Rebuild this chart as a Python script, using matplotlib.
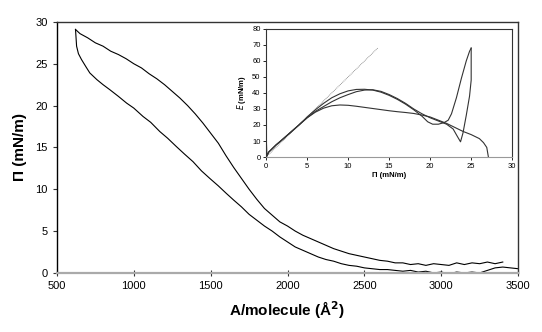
import matplotlib.pyplot as plt

plt.rcParams['font.family'] = ['Liberation Sans', 'DejaVu Sans']

# main isotherm, upper branch (right -> left) then lower branch (left -> right)
upper_area = [3400, 3350, 3300, 3250, 3200, 3150, 3100, 3050, 3000, 2950, 2900, 2850, 2800,
              2750, 2700, 2650, 2600, 2550, 2500, 2450, 2400, 2350, 2300, 2250, 2200, 2150,
              2100, 2050, 2000, 1950, 1900, 1850, 1800, 1750, 1700, 1650, 1600, 1550, 1500,
              1450, 1400, 1350, 1300, 1250, 1200, 1150, 1100, 1050, 1000, 950, 900, 850,
              800, 750, 700, 650, 621]
upper_pi = [1.3, 1.1, 1.3, 1.1, 1.2, 1.0, 1.2, 0.9, 1.0, 1.1, 0.9, 1.1, 1.0,
            1.2, 1.2, 1.4, 1.5, 1.7, 1.9, 2.1, 2.3, 2.6, 2.9, 3.3, 3.7, 4.1,
            4.5, 5.0, 5.6, 6.1, 6.9, 7.7, 8.8, 10.0, 11.3, 12.6, 14.0, 15.5, 16.7,
            17.9, 19.0, 20.0, 20.9, 21.7, 22.5, 23.2, 23.8, 24.5, 25.0, 25.6, 26.1, 26.5,
            27.1, 27.5, 28.1, 28.6, 29.1]
lower_area = [621, 628, 640, 660, 690, 714, 760, 800, 844, 900, 953, 1000, 1060, 1110,
              1169, 1220, 1277, 1330, 1385, 1440, 1494, 1550, 1602, 1650, 1700, 1750,
              1800, 1850, 1900, 1950, 2000, 2050, 2100, 2150, 2200, 2250, 2300, 2350,
              2400, 2450, 2500, 2550, 2600, 2650, 2700, 2750, 2800, 2850, 2900, 2950,
              3000, 3050, 3100, 3150, 3200, 3250, 3300, 3350, 3400, 3450, 3500]
lower_pi = [29.1, 27.1, 26.2, 25.5, 24.6, 23.9, 23.1, 22.5, 21.9, 21.1, 20.3, 19.7, 18.7, 18.0,
            16.9, 16.1, 15.1, 14.2, 13.3, 12.2, 11.3, 10.4, 9.5, 8.7, 7.9, 7.0,
            6.3, 5.6, 5.0, 4.3, 3.7, 3.1, 2.7, 2.3, 1.9, 1.6, 1.4, 1.1,
            0.9, 0.8, 0.6, 0.5, 0.4, 0.4, 0.3, 0.2, 0.3, 0.1, 0.2, 0.0,
            0.1, -0.1, 0.1, 0.0, 0.1, 0.0, 0.3, 0.6, 0.7, 0.6, 0.5]

# inset: dilational modulus E vs surface pressure
tangent_pi = [0, 13.6]
tangent_e = [0, 68]

pi1 = [0, 0.1, 0.3, 0.7, 1.2, 2, 3, 4, 5, 6, 7, 8, 9, 10, 11, 12, 13, 14, 15, 16, 17,
       18, 19, 20, 21, 22, 23, 24, 25, 26, 26.5, 26.9, 27.1]
e1 = [14, 0.5, 3, 5, 7.5, 11, 15.5, 20, 24.5, 28, 30.5, 32, 32.5, 32.3, 31.7, 31, 30.3,
      29.6, 28.9, 28.3, 27.8, 27.2, 26.2, 25, 23, 21, 18.5, 16, 14, 11.5, 9, 6, 0]

pi2 = [0, 0.3, 0.7, 1.2, 2, 3, 4, 5, 6, 7, 8, 9, 10, 11, 12, 13, 14, 15, 16, 17, 18, 19,
       19.7, 20.3, 21, 21.7, 22.2, 22.6, 23.2, 23.8, 24.4, 24.8, 25.0]
e2 = [0, 3, 5, 7.5, 11, 15.5, 20, 25, 29.5, 33.5, 37, 39.5, 41.3, 42.2, 42.3, 41.8, 40.5,
      38.5, 36, 33, 29.5, 25.5, 22, 20.5, 20.5, 21.5, 23, 27, 37, 49, 60, 66, 68]

pi3 = [0, 0.3, 0.7, 1.2, 2, 3, 4, 5, 6, 7, 8, 9, 10, 11, 12, 13, 14, 15, 16, 17, 18, 19,
       20, 21, 22, 22.8, 23.3, 23.7, 24.0, 24.4, 24.8, 25.0, 25.0]
e3 = [0, 3, 5, 7.5, 11, 15.5, 20, 24.5, 28.5, 31.5, 34.5, 37, 39, 40.8, 41.8, 42, 41, 39,
      36.5, 33.5, 30, 27, 24.5, 22.5, 20.5, 17.5, 13, 9.5, 15, 26, 38, 48, 68]

fig = plt.figure(figsize=(5.42, 3.32), dpi=100)
ax = fig.add_axes([0.105, 0.178, 0.851, 0.756])

ax.plot(upper_area, upper_pi, color='black', lw=0.8)
ax.plot(lower_area, lower_pi, color='black', lw=0.8)

ax.set_xlim(500, 3500)
ax.set_ylim(0, 30)
ax.set_xticks(range(500, 3501, 500))
ax.set_yticks(range(0, 31, 5))
ax.tick_params(labelsize=8, length=3, width=0.8, color='#333333')
ax.tick_params(axis='x', direction='inout', length=4)
ax.spines['bottom'].set_color('#aaaaaa')
ax.spines['bottom'].set_linewidth(1.6)
ax.spines['left'].set_linewidth(1.0)
ax.spines['top'].set_linewidth(1.0)
ax.spines['right'].set_linewidth(1.0)
ax.spines['top'].set_color('#333333')
ax.spines['right'].set_color('#333333')
ax.set_xlabel('A/molecule (Å$^\\mathbf{2}$)', fontsize=11, fontweight='bold', labelpad=6)
ax.set_ylabel('Π (mN/m)', fontsize=11, fontweight='bold', labelpad=6)

ins = fig.add_axes([0.491, 0.527, 0.454, 0.386])
ins.plot(tangent_pi, tangent_e, color='#777777', lw=0.6, ls=(0, (1, 1)))
ins.plot(pi1, e1, color='#333333', lw=0.8)
ins.plot(pi2, e2, color='#333333', lw=0.8)
ins.plot(pi3, e3, color='#333333', lw=0.8)

ins.set_xlim(0, 30)
ins.set_ylim(0, 80)
ins.set_xticks(range(0, 31, 5))
ins.set_yticks(range(0, 81, 10))
ins.tick_params(labelsize=5.5, length=2, width=0.6, pad=2)
for s in ins.spines.values():
    s.set_linewidth(0.8)
    s.set_color('#333333')
ins.spines['bottom'].set_color('#999999')
ins.set_xlabel('Π (mN/m)', fontsize=5.5, fontweight='bold', labelpad=2)
ins.set_ylabel('$\\bf{\\it{E}}$ (mN/m)', fontsize=5.5, fontweight='bold', labelpad=3)

fig.savefig('out.png', dpi=100)
